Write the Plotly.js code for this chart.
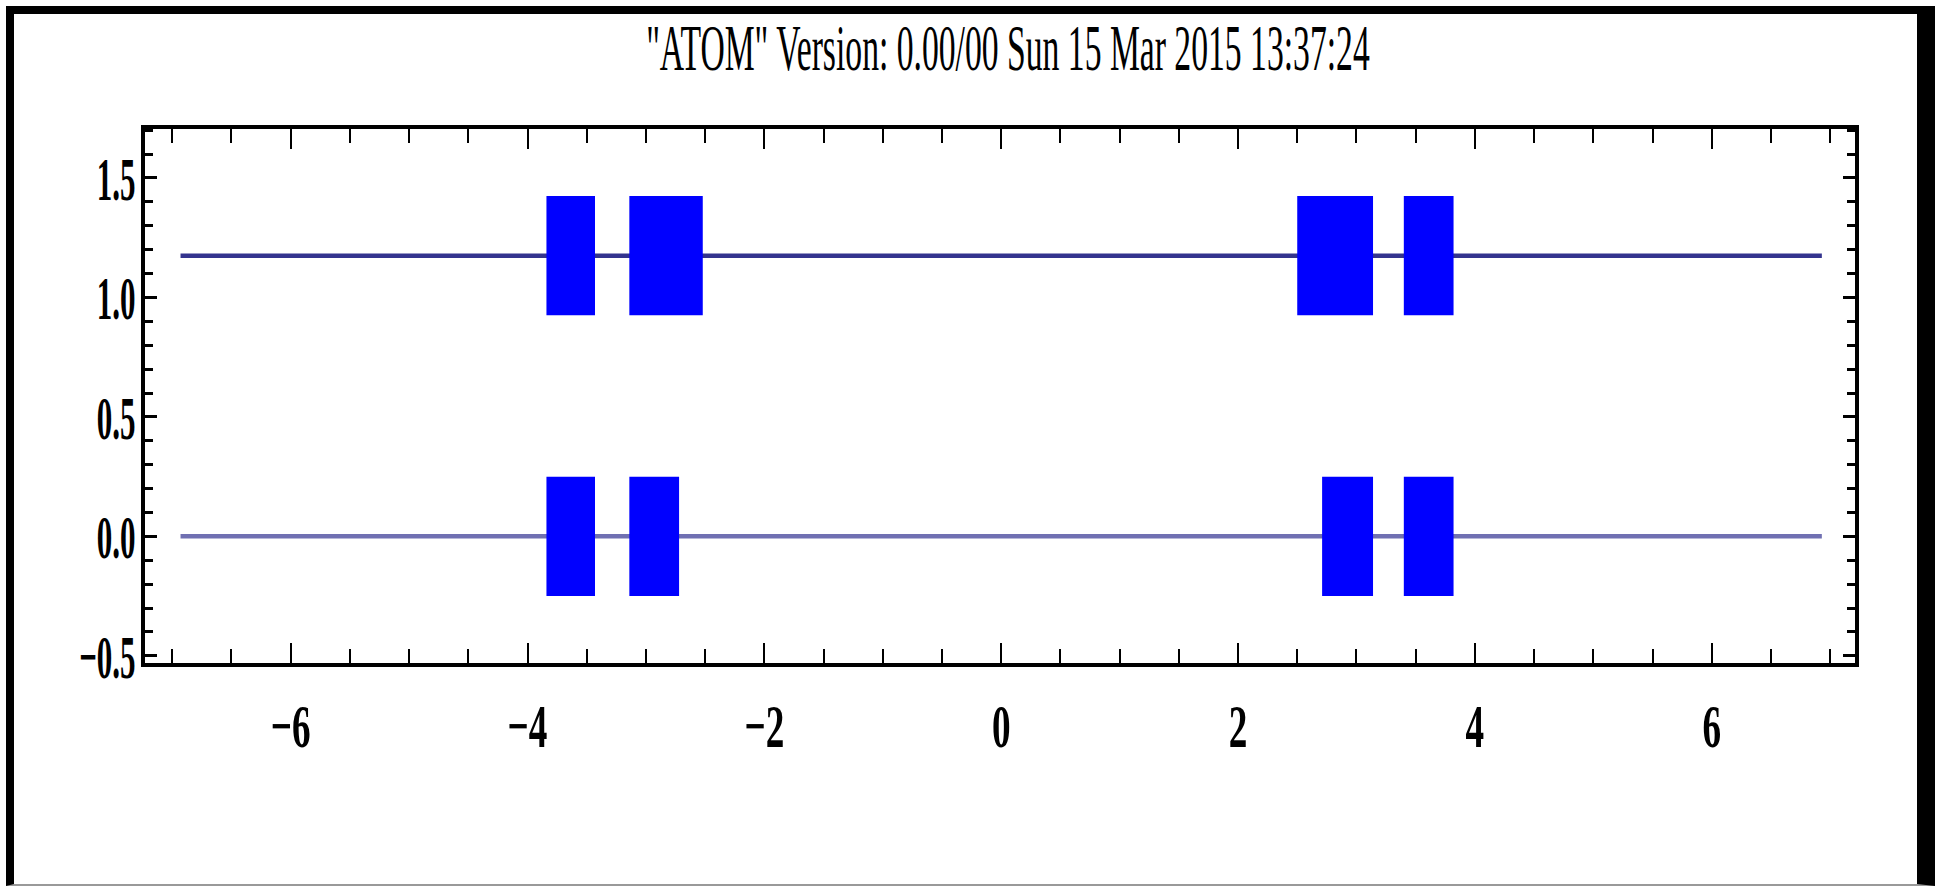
<!DOCTYPE html>
<html>
<head>
<meta charset="utf-8">
<script src="https://cdn.plot.ly/plotly-3.0.1.min.js"></script>
<style>
  html, body { margin: 0; padding: 0; background: #fff; }
  #wrap { position: relative; width: 1935px; height: 887px; overflow: hidden; }
  #chart { position: absolute; left: 0; top: 0; width: 1935px; height: 887px; }
  #frame { position: absolute; left: 6px; top: 6px; width: 1929px; height: 880px; box-sizing: border-box;
           border-left: 8px solid #000; border-top: 8px solid #000; border-right: 18px solid #000;
           border-bottom: 2px solid #999; pointer-events: none; }
</style>
</head>
<body>
<div id="wrap">
  <div id="chart"></div>
  <div id="frame"></div>
</div>
<script>
// ---- data ----
const titleText = '"ATOM" Version: 0.00/00 Sun 15 Mar 2015 13:37:24';
const rowLevels = [1.175, 0.0];           // baseline of each row
const lineStart = -6.93;
const lineEnd = 6.93;
const boxHalfHeight = 0.25;
const topRowStarts = [-3.84, -3.14, 2.50, 3.40];
const topRowEnds   = [-3.43, -2.52, 3.14, 3.82];
const bottomRowStarts = [-3.84, -3.14, 2.71, 3.40];
const bottomRowEnds   = [-3.43, -2.72, 3.14, 3.82];
const xTickVals = [-6, -4, -2, 0, 2, 4, 6];
const yTickVals = [-0.5, 0.0, 0.5, 1.0, 1.5];
const xRange = [-7.23, 7.21];
const yRange = [-0.53, 1.705];

const lineColors = ['#34348e', '#7070b2'];
const boxColor = '#0000ff';

function boxTrace(starts, ends, level) {
  const xs = [], ys = [];
  for (let i = 0; i < starts.length; i++) {
    xs.push(starts[i], ends[i], ends[i], starts[i], starts[i], null);
    ys.push(level - boxHalfHeight, level - boxHalfHeight, level + boxHalfHeight, level + boxHalfHeight, level - boxHalfHeight, null);
  }
  return { x: xs, y: ys, type: 'scatter', mode: 'lines', fill: 'toself',
           fillcolor: boxColor, line: { width: 0, color: boxColor }, hoverinfo: 'skip', showlegend: false };
}

const traces = [
  { x: [lineStart, lineEnd], y: [rowLevels[0], rowLevels[0]], type: 'scatter', mode: 'lines',
    line: { color: lineColors[0], width: 4.5 }, showlegend: false },
  { x: [lineStart, lineEnd], y: [rowLevels[1], rowLevels[1]], type: 'scatter', mode: 'lines',
    line: { color: lineColors[1], width: 4.5 }, showlegend: false },
  boxTrace(topRowStarts, topRowEnds, rowLevels[0]),
  boxTrace(bottomRowStarts, bottomRowEnds, rowLevels[1])
];

const tickFont = { family: 'Liberation Serif, Times New Roman, serif', size: 62, color: '#000', weight: 'bold' };

const layout = {
  width: 1935, height: 887,
  margin: { l: 145, r: 80, t: 129, b: 224, pad: 0 },
  paper_bgcolor: '#fff', plot_bgcolor: '#fff',
  showlegend: false,
  title: { text: titleText, font: { family: 'Liberation Serif, Times New Roman, serif', size: 66, color: '#000' },
           xref: 'container', x: 0.5209, xanchor: 'center', yref: 'container', y: 0.947, yanchor: 'middle' },
  xaxis: {
    range: xRange, tickmode: 'array', tickvals: xTickVals, ticktext: xTickVals.map(v => v === 0 ? '0' : (v < 0 ? '\u2212' + Math.abs(v) : String(v))),
    showline: true, linecolor: '#000', linewidth: 4, mirror: 'ticks',
    ticks: 'inside', ticklen: 20, tickwidth: 2, tickcolor: '#000',
    minor: { dtick: 0.5, tick0: 0, ticks: 'inside', ticklen: 14, tickwidth: 2, tickcolor: '#000', showgrid: false },
    showgrid: false, zeroline: false, tickfont: tickFont, ticklabelstandoff: 6
  },
  yaxis: {
    range: yRange, tickmode: 'array', tickvals: yTickVals, ticktext: yTickVals.map(v => (v < 0 ? '\u2212' : '') + Math.abs(v).toFixed(1)),
    showline: true, linecolor: '#000', linewidth: 4, mirror: 'ticks',
    ticks: 'inside', ticklen: 12, tickwidth: 3, tickcolor: '#000',
    minor: { dtick: 0.1, tick0: 0, ticks: 'inside', ticklen: 8, tickwidth: 3, tickcolor: '#000', showgrid: false },
    showgrid: false, zeroline: false, tickfont: tickFont, ticklabelstandoff: 4
  }
};

function squeeze(el, s, mode, dx) {
  const bb = el.getBBox();
  const ax = mode === 'end' ? bb.x + bb.width : bb.x + bb.width / 2;
  const t = el.getAttribute('transform') || '';
  el.setAttribute('transform', t + ' translate(' + (ax + (dx || 0)) + ',0) scale(' + s + ',1) translate(' + (-ax) + ',0)');
}

Plotly.newPlot('chart', traces, layout, { staticPlot: true, displayModeBar: false }).then(function (gd) {
  gd.querySelectorAll('.xtick text').forEach(el => squeeze(el, 0.6, 'middle', 0));
  gd.querySelectorAll('.ytick text').forEach(el => squeeze(el, 0.5, 'end', 11));
  gd.querySelectorAll('.gtitle').forEach(el => squeeze(el, 0.51, 'middle', 0));
});
</script>
</body>
</html>
